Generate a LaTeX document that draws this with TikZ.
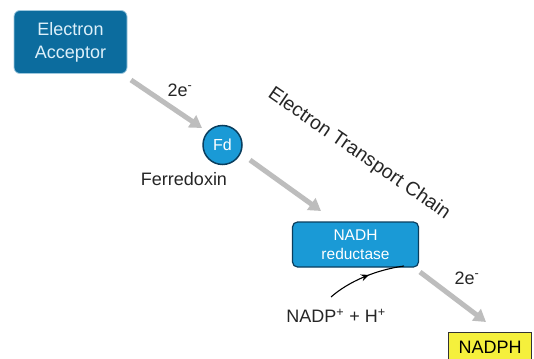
\documentclass[tikz,border=0pt]{standalone}
\usepackage{fontspec}
\setmainfont{Liberation Sans}
\usetikzlibrary{arrows.meta,decorations.markings}
\definecolor{darkblue}{HTML}{0C6C9E}
\definecolor{midblue}{HTML}{1A9AD6}
\definecolor{edgeblue}{HTML}{0A3E5E}
\definecolor{lighttext}{HTML}{DDF0FA}
\definecolor{arrowgray}{HTML}{BDBDBD}
\definecolor{nadphyellow}{HTML}{F5F03C}
\tikzset{
  acceptorbox/.style={draw=lighttext!70!darkblue,line width=0.8pt,fill=darkblue,rounded corners=6pt,
    minimum width=113pt,minimum height=63pt,text=lighttext,align=center,font=\fontsize{18}{23}\selectfont},
  fdcircle/.style={circle,draw=edgeblue,line width=1.5pt,fill=midblue,minimum size=39pt,inner sep=0pt,
    text=white,font=\fontsize{16}{18}\selectfont},
  reductasebox/.style={draw=edgeblue,line width=1.2pt,fill=midblue,rounded corners=5pt,
    minimum width=126pt,minimum height=45pt,text=white,align=center,font=\fontsize{15.5}{19}\selectfont},
  nadphbox/.style={draw=black!80,line width=1pt,fill=nadphyellow,minimum width=83pt,minimum height=30pt,
    inner sep=2pt,font=\fontsize{18}{20}\selectfont},
  plain/.style={text=black!85,font=\fontsize{18}{20}\selectfont,inner sep=0pt},
  grayarrow/.style={draw=arrowgray,line width=5pt,-{Triangle[length=12pt,width=14pt]}},
  curvearrow/.style={draw=black,line width=1.1pt,postaction={decorate},
    decoration={markings,mark=at position 0.55 with {\arrow{Stealth[length=8pt,width=7pt]}}}}
}
\begin{document}
\begin{tikzpicture}[x=1pt,y=-1pt]
\useasboundingbox[fill=white] (0,0) rectangle (534,358);
\node[acceptorbox] (acc) at (70.5,42) {Electron\\Acceptor};
\node[fdcircle] (fd) at (222.5,145) {Fd};
\node[plain,anchor=north] (ferr) at (184,172) {Ferredoxin};
\node[reductasebox] (red) at (355.5,244.5) {NADH\\reductase};
\node[plain] (nadp) at (336,316) {NADP\textsuperscript{+} + H\textsuperscript{+}};
\node[nadphbox,anchor=north] (nadph) at (490,332) {NADPH};
\node[plain] (e1) at (180,90) {2e\textsuperscript{-}};
\node[plain] (e2) at (467,278) {2e\textsuperscript{-}};
\node[plain,rotate=-34.5,font=\fontsize{19.5}{21}\selectfont] (etc) at (359,154) {Electron Transport Chain};
\coordinate (a1s) at (131,80);
\coordinate (a1e) at (202,128);
\coordinate (a2s) at (250,160);
\coordinate (a2e) at (321,211);
\coordinate (a3s) at (420,272);
\coordinate (a3e) at (486,322);
\draw[grayarrow] (a1s) -- (a1e);
\draw[grayarrow] (a2s) -- (a2e);
\draw[grayarrow] (a3s) -- (a3e);
\coordinate (cs) at (331,297);
\coordinate (ce) at (404,266);
\draw[curvearrow] (cs) .. controls (348,282) and (375,270) .. (ce);
\end{tikzpicture}
\end{document}
